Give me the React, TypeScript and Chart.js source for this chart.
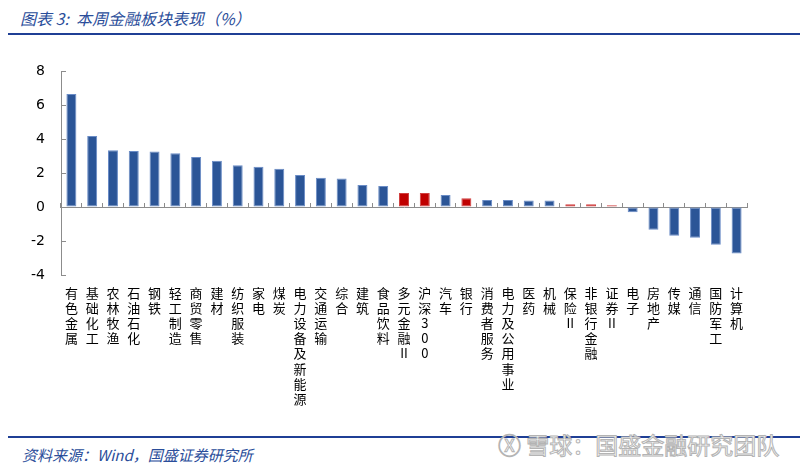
import React, { useEffect, useRef } from "react";
import { Chart, registerables } from "chart.js";

Chart.register(...registerables);

const categories = [
  "有色金属", "基础化工", "农林牧渔", "石油石化", "钢铁", "轻工制造", "商贸零售", "建材",
  "纺织服装", "家电", "煤炭", "电力设备及新能源", "交通运输", "综合", "建筑", "食品饮料",
  "多元金融II", "沪深300", "汽车", "银行", "消费者服务", "电力及公用事业", "医药", "机械",
  "保险II", "非银行金融", "证券II", "电子", "房地产", "传媒", "通信", "国防军工", "计算机",
];
const values = [
  6.65, 4.18, 3.34, 3.30, 3.26, 3.16, 2.94, 2.72,
  2.45, 2.37, 2.25, 1.88, 1.72, 1.68, 1.30, 1.23,
  0.83, 0.83, 0.71, 0.51, 0.41, 0.41, 0.38, 0.38,
  0.16, 0.16, 0.10, -0.31, -1.34, -1.69, -1.81, -2.22, -2.74,
];
const highlighted = ["多元金融II", "沪深300", "银行", "保险II", "非银行金融", "证券II"];
const yTicks = [-4, -2, 0, 2, 4, 6, 8];

const titleText = "图表 3:  本周金融板块表现（%）";
const sourceText = "资料来源：Wind，国盛证券研究所";
const watermarkText = "雪球：国盛金融研究团队";

const BLUE = "#2B5597";
const RED = "#C00000";
const AXIS = "#8c8c8c";

export default function App() {
  const ref = useRef<HTMLCanvasElement | null>(null);

  useEffect(() => {
    if (!ref.current) return;
    const labelLines = categories.map((c) => c.match(/II|[^I]/g) as string[]);
    const chart = new Chart(ref.current, {
      type: "bar",
      data: {
        labels: labelLines,
        datasets: [
          {
            data: values,
            backgroundColor: categories.map((c) => (highlighted.includes(c) ? RED : BLUE)),
            borderColor: categories.map((c) => (highlighted.includes(c) ? "#d04040" : "#6a8cc6")),
            borderWidth: 1,
            borderSkipped: false,
            barPercentage: 0.48,
            categoryPercentage: 1,
            xAxisID: "x",
            yAxisID: "y",
          },
        ],
      },
      options: {
        animation: false,
        responsive: false,
        devicePixelRatio: 1,
        layout: { padding: { top: 31, right: 53, bottom: 2, left: 0 } },
        plugins: { legend: { display: false }, tooltip: { enabled: false } },
        scales: {
          x: {
            type: "category",
            position: "bottom",
            offset: true,
            grid: { display: false, drawTicks: false, offset: true },
            border: { display: false },
            ticks: {
              autoSkip: false,
              maxRotation: 0,
              minRotation: 0,
              padding: 10,
              color: "#000",
              font: { family: "'Noto Sans CJK SC'", size: 13, lineHeight: 1.17 },
            },
            afterFit: (s: any) => {
              s.height = 138;
            },
          },
          x0: {
            type: "category",
            position: { y: 0 } as any,
            offset: true,
            grid: {
              offset: true,
              drawOnChartArea: false,
              drawTicks: true,
              tickLength: -5,
              color: AXIS,
              lineWidth: 1,
            },
            border: { display: true, color: AXIS, width: 1 },
            ticks: { display: false },
          },
          y: {
            type: "linear",
            position: "left",
            min: -4,
            max: 8,
            afterBuildTicks: (s: any) => {
              s.ticks = yTicks.map((v) => ({ value: v }));
            },
            grid: {
              drawOnChartArea: false,
              drawTicks: true,
              tickLength: -5,
              color: AXIS,
              lineWidth: 1,
            },
            border: { display: true, color: AXIS, width: 1 },
            ticks: {
              padding: 21,
              color: "#000",
              font: { family: "'DejaVu Sans'", size: 14 },
            },
            afterFit: (s: any) => {
              s.width = 61;
            },
          },
        },
      },
    });
    return () => chart.destroy();
  }, []);

  return (
    <div
      style={{
        position: "absolute",
        left: 0,
        top: 0,
        width: 800,
        height: 470,
        background: "#fff",
        overflow: "hidden",
        fontFamily: "'Noto Sans CJK SC', sans-serif",
      }}
    >
      <div
        style={{
          position: "absolute",
          left: 20,
          top: 7,
          fontSize: 16,
          lineHeight: "22px",
          fontStyle: "italic",
          color: "#2a4d9a",
          whiteSpace: "pre",
        }}
      >
        {titleText}
      </div>
      <div style={{ position: "absolute", left: 8, top: 33, width: 792, height: 2, background: "#1f3f95" }} />
      <canvas
        ref={ref}
        width={800}
        height={375}
        style={{ position: "absolute", left: 0, top: 40, width: 800, height: 375 }}
      />
      <div style={{ position: "absolute", left: 8, top: 436, width: 792, height: 2, background: "#1f3f95" }} />
      <div
        style={{
          position: "absolute",
          left: 22,
          top: 444,
          fontSize: 15,
          lineHeight: "22px",
          fontStyle: "italic",
          color: "#2a4d9a",
          whiteSpace: "pre",
        }}
      >
        {sourceText}
      </div>
      <div
        style={{
          position: "absolute",
          left: 498,
          top: 430,
          fontSize: 23,
          lineHeight: "28px",
          color: "#fff",
          WebkitTextStroke: "1px #b4b4b4",
          whiteSpace: "pre",
          letterSpacing: 0,
        }}
      >
        {"Ⓧ " + watermarkText}
      </div>
    </div>
  );
}
